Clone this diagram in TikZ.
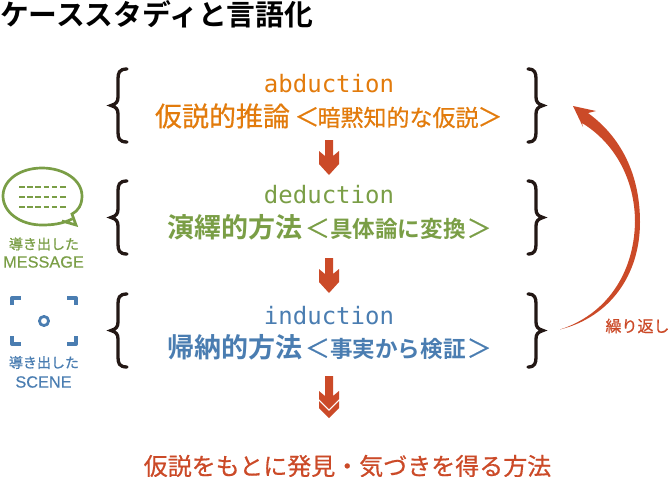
\documentclass[tikz,border=0pt]{standalone}
\usepackage{fontspec}
\setmainfont{Noto Sans CJK JP}[BoldFont={Noto Sans CJK JP Bold}]
\newfontfamily\medf{Noto Sans CJK JP}[FakeBold=0.6]
\newfontfamily\labf{Noto Sans CJK JP}[FakeBold=1]
\newfontfamily\latn{Liberation Sans}[FakeBold=0.4]
\setmonofont{DejaVu Sans Mono}
\definecolor{ora}{HTML}{E27B0C}
\definecolor{grn}{HTML}{7A9E46}
\definecolor{blu}{HTML}{4A7DB1}
\definecolor{rd}{HTML}{CB4A28}
\definecolor{ink}{HTML}{231815}
\newcommand{\fs}[1]{\fontsize{#1}{#1}\selectfont}
\newcommand{\lt}{{\medf\mdseries\fs{25}＜}}
\newcommand{\gt}{{\medf\mdseries\fs{25}＞}}
\tikzset{
  txt/.style={inner sep=0pt,outer sep=0pt},
  brc/.style={draw=ink,line width=3.3pt,line cap=round,line join=miter},
  mono/.style={txt,font=\ttfamily\fs{24}},
  big/.style={txt,font=\bfseries\fs{27},anchor=west},
  sub/.style={txt,font=\bfseries\fs{22.6},anchor=west},
  lab/.style={txt,font=\labf\fs{14}},
  lat/.style={txt,font=\latn\fs{16.3}},
}
\newcommand{\lbr}[1]{\draw[brc] (127,#1) .. controls (119,#1) and (118,#1+4) .. (118,#1+10) -- (118,#1+28) .. controls (118,#1+33) and (116,#1+35) .. (111,#1+36.5) .. controls (116,#1+38) and (118,#1+40) .. (118,#1+45) -- (118,#1+63) .. controls (118,#1+69) and (119,#1+73) .. (127,#1+73);}
\newcommand{\rbr}[1]{\draw[brc] (528,#1) .. controls (535,#1) and (536,#1+4) .. (536,#1+10) -- (536,#1+28) .. controls (536,#1+33) and (538,#1+35) .. (543,#1+36.5) .. controls (538,#1+38) and (536,#1+40) .. (536,#1+45) -- (536,#1+63) .. controls (536,#1+69) and (535,#1+73) .. (528,#1+73);}
\newcommand{\darr}[1]{\fill[rd] (325,#1) -- (333,#1) -- (333,#1+16) -- (339,#1+11) -- (339,#1+24) -- (329,#1+35) -- (319,#1+24) -- (319,#1+11) -- (325,#1+16) -- cycle;}
\begin{document}
\begin{tikzpicture}[x=1pt,y=-1pt]
\useasboundingbox (0,0) rectangle (670,477);
\node[txt,anchor=west,font=\bfseries\fs{28.8},text=black] (title) at (0,14) {ケーススタディと言語化};
% row 1
\node[mono,text=ora] (abd) at (329,84) {abduction};
\node[big,font=\medf\fs{27},text=ora] (abdj) at (155,116) {仮説的推論};
\node[sub,font=\medf\fs{23},text=ora] (abds) at (294.5,117.5) {\lt\hspace{-2pt}暗黙知的な仮説\hspace{-1pt}\gt};
% row 2
\node[mono,text=grn] (ded) at (329,195) {deduction};
\node[big,text=grn] (dedj) at (167,227.5) {演繹的方法};
\node[sub,text=grn] (deds) at (305,229) {\lt 具体論に変換\hspace{1pt}\gt};
% row 3
\node[mono,text=blu] (ind) at (329,316) {induction};
\node[big,text=blu] (indj) at (167,347.5) {帰納的方法};
\node[sub,text=blu] (inds) at (305,349) {\lt 事実から検証\hspace{1pt}\gt};
% braces
\lbr{69}\lbr{181}\lbr{294}
\rbr{69}\rbr{181}\rbr{294}
% arrows
\darr{140}\darr{258}
\fill[rd] (325,376) -- (333,376) -- (333,396) -- (339,391) -- (339,399) -- (329,409) -- (319,399) -- (319,391) -- (325,396) -- cycle;
\fill[rd] (319,401) -- (329,411) -- (339,401) -- (339,408) -- (329,418) -- (319,408) -- cycle;
% loop arrow
\fill[rd] (560,329.5) .. controls (605,315) and (634,275) .. (635,222) .. controls (635,180) and (615,143) .. (582,123) -- (583,127) -- (573,106) -- (596,111) -- (588,113) .. controls (625,140) and (640,180) .. (640,222) .. controls (640,275) and (610,317) .. (560,329.5) -- cycle;
\node[lab,font=\medf\fs{16},text=rd] (rep) at (637.5,326) {繰り返し};
% message icon
\draw[grn,line width=2.7pt,line join=miter,fill=white] (72,219) .. controls (62,224) and (52,225) .. (42,225) .. controls (20,225) and (3,212) .. (3,196) .. controls (3,180) and (20,168) .. (42,168) .. controls (64,168) and (82,180) .. (82,196) .. controls (82,205) and (78,211) .. (72,214) -- (76,225) -- (62,221);
\foreach \yy in {187,197,207}
  \draw[grn,line width=2.8pt,dash pattern=on 5.6pt off 2.6pt] (19,\yy) -- (66,\yy);
\node[lab,text=grn] (m1) at (44,244) {導き出した};
\node[lat,text=grn] (m2) at (43.5,262) {MESSAGE};
% scene icon
\begin{scope}[blu,line width=4pt,line join=round]
\draw (12,305) -- (12,298) -- (21,298);
\draw (67,298) -- (76,298) -- (76,305);
\draw (12,336) -- (12,344) -- (21,344);
\draw (67,344) -- (76,344) -- (76,336);
\draw[line width=2.8pt] (44,321) circle (4.6);
\end{scope}
\node[lab,text=blu] (s1) at (44,362.5) {導き出した};
\node[lat,text=blu] (s2) at (43.5,382) {SCENE};
% conclusion
\node[txt,text=rd,font=\medf\fs{24}] (concl) at (347.5,466) {仮説をもとに発見・気づきを得る方法};
\end{tikzpicture}
\end{document}
